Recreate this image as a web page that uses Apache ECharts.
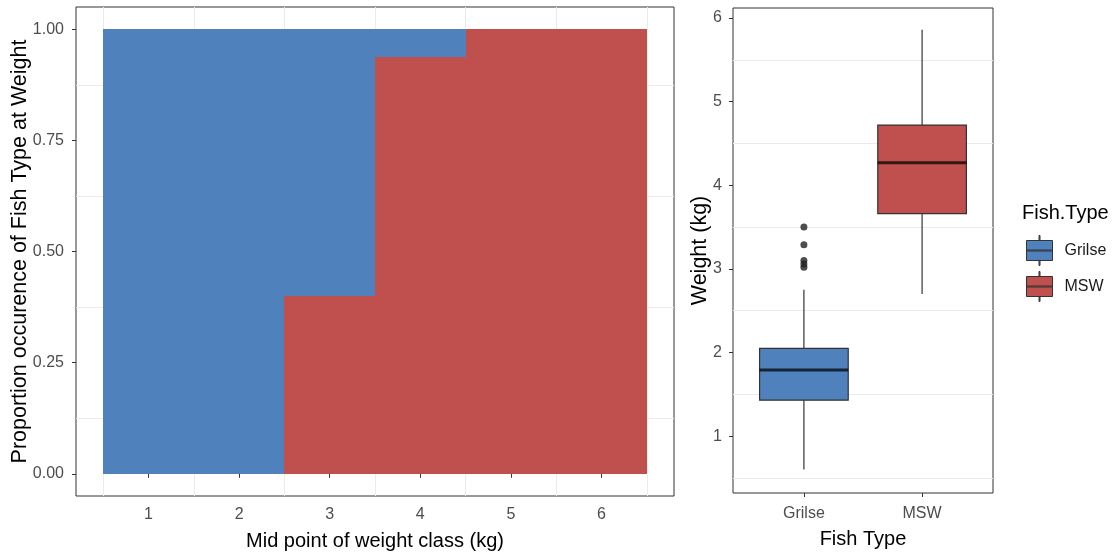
<!DOCTYPE html>
<html>
<head>
<meta charset="utf-8">
<script src="https://cdn.jsdelivr.net/npm/echarts@6/dist/echarts.min.js"></script>
<style>
  html, body { margin: 0; padding: 0; background: #ffffff; }
  #chart { width: 1118px; height: 556px; }
</style>
</head>
<body>
<div id="chart"></div>
<script>
// ---- data ----
const weightClasses = [1, 2, 3, 4, 5, 6];
const grilseProp = [1, 1, 0.6, 0.0625, 0, 0];
const mswProp = [0, 0, 0.4, 0.9375, 1, 1];
const propTicks = [0, 0.25, 0.5, 0.75, 1];

const fishTypes = ['Grilse', 'MSW'];
const whiskerLow = [0.60, 2.70];
const quart1 = [1.43, 3.66];
const medians = [1.79, 4.27];
const quart3 = [2.05, 4.72];
const whiskerHigh = [2.75, 5.86];
const grilseOutliers = [3.50, 3.29, 3.10, 3.06, 3.02];
const weightTicks = [1, 2, 3, 4, 5, 6];

// ---- style ----
const FONT = "'Liberation Sans', Arial, sans-serif";
const BLUE = '#4F81BD';
const RED = '#C0504D';
const typeColors = { Grilse: BLUE, MSW: RED };
const GRID = '#ebebeb';
const DARK = '#333333';
const TICKTXT = '#4d4d4d';

function midpoints(ticks) {
  const out = [];
  const step = ticks[1] - ticks[0];
  out.push(ticks[0] - step / 2);
  for (let i = 0; i < ticks.length; i++) out.push(ticks[i] + step / 2);
  return out;
}

// stacked proportions: MSW at bottom, Grilse on top
const mswStack = weightClasses.map((c, i) => [c, 0, mswProp[i]]);
const grilseStack = weightClasses.map((c, i) => [c, mswProp[i], mswProp[i] + grilseProp[i]]);

const boxData = fishTypes.map((t, i) => [i + 1, whiskerLow[i], quart1[i], medians[i], quart3[i], whiskerHigh[i]]);
const outlierData = grilseOutliers.map(v => [fishTypes.indexOf('Grilse') + 1, v]);

const legendIcon = 'path://M12.5,0H13.5V5H12.5Z M0,5H26V25H0Z M0,14.5H26V15.5H0Z M12.5,25H13.5V30H12.5Z';

const chart = echarts.init(document.getElementById('chart'), null, { renderer: 'canvas' });

function hiddenAxis(extra) {
  return Object.assign({
    type: 'value',
    axisLine: { show: false },
    axisLabel: { show: false },
    axisTick: { show: false },
    splitLine: { show: true, lineStyle: { color: GRID, width: 1 } }
  }, extra);
}

const tickStyle = { show: true, inside: false, length: 4, lineStyle: { color: DARK, width: 1 } };

function barRender(color) {
  return function (params, api) {
    const x = api.value(0);
    const lo = api.value(1);
    const hi = api.value(2);
    if (hi - lo <= 0) return null;
    const p0 = api.coord([x - 0.5, lo]);
    const p1 = api.coord([x + 0.5, hi]);
    const x0 = Math.round(p0[0]), x1 = Math.round(p1[0]);
    const y0 = Math.round(p0[1]), y1 = Math.round(p1[1]);
    return { type: 'rect', shape: { x: x0, y: y1, width: x1 - x0, height: y0 - y1 }, style: { fill: color } };
  };
}

const option = {
  backgroundColor: '#ffffff',
  animation: false,
  textStyle: { fontFamily: FONT },
  title: {
    text: 'Fish.Type',
    left: 1022,
    top: 203,
    padding: 0,
    textStyle: { fontFamily: FONT, fontSize: 20, fontWeight: 'normal', color: '#000000' }
  },
  legend: {
    orient: 'vertical',
    left: 1026,
    top: 235,
    padding: 0,
    itemWidth: 26,
    itemHeight: 30,
    itemGap: 5,
    selectedMode: false,
    textStyle: { fontFamily: FONT, fontSize: 16, color: '#1a1a1a', padding: [0, 0, 0, 7] },
    data: fishTypes.map(t => ({
      name: t,
      icon: legendIcon,
      itemStyle: { color: typeColors[t], borderColor: DARK, borderWidth: 1 }
    }))
  },
  grid: [
    { left: 76, top: 7, width: 598, height: 489, show: true, borderColor: DARK, borderWidth: 1,
      backgroundColor: '#fff', outerBoundsMode: 'none', containLabel: false },
    { left: 733, top: 8, width: 260, height: 485, show: true, borderColor: DARK, borderWidth: 1,
      backgroundColor: '#fff', outerBoundsMode: 'none', containLabel: false }
  ],
  xAxis: [
    {
      gridIndex: 0, type: 'value', min: 0.2, max: 6.8,
      axisLine: { show: false },
      axisTick: Object.assign({ customValues: weightClasses }, tickStyle),
      axisLabel: { customValues: weightClasses, fontSize: 16, color: TICKTXT, margin: 11, fontFamily: FONT },
      splitLine: { show: false },
      name: 'Mid point of weight class (kg)',
      nameLocation: 'middle', nameGap: 35, nameMoveOverlap: false,
      nameTextStyle: { fontSize: 20, color: '#000', fontFamily: FONT }
    },
    hiddenAxis({ gridIndex: 0, min: 0.2, max: 6.8, position: 'top',
      axisTick: { show: false, customValues: midpoints(weightClasses) } }),
    {
      gridIndex: 1, type: 'value', min: 0.4, max: 2.6,
      axisLine: { show: false },
      axisTick: Object.assign({ customValues: fishTypes.map((t, i) => i + 1) }, tickStyle),
      axisLabel: { customValues: fishTypes.map((t, i) => i + 1), fontSize: 16, color: TICKTXT, margin: 13, fontFamily: FONT,
        formatter: v => fishTypes[Math.round(v) - 1] },
      splitLine: { show: false },
      name: 'Fish Type',
      nameLocation: 'middle', nameGap: 36, nameMoveOverlap: false,
      nameTextStyle: { fontSize: 20, color: '#000', fontFamily: FONT }
    }
  ],
  yAxis: [
    {
      gridIndex: 0, type: 'value', min: -0.05, max: 1.05,
      axisLine: { show: false },
      axisTick: Object.assign({ customValues: propTicks }, tickStyle),
      axisLabel: { customValues: propTicks, fontSize: 16, color: TICKTXT, margin: 12, fontFamily: FONT,
        formatter: v => v.toFixed(2) },
      splitLine: { show: false },
      name: 'Proportion occurence of Fish Type at Weight',
      nameLocation: 'middle', nameGap: 44.5, nameMoveOverlap: false,
      nameTextStyle: { fontSize: 21.5, color: '#000', fontFamily: FONT }
    },
    hiddenAxis({ gridIndex: 0, min: -0.05, max: 1.05, position: 'right',
      axisTick: { show: false, customValues: midpoints(propTicks).filter(v => v > -0.05 && v < 1.05) } }),
    {
      gridIndex: 1, type: 'value', min: 0.32, max: 6.12,
      axisLine: { show: false },
      axisTick: Object.assign({ customValues: weightTicks }, tickStyle),
      axisLabel: { customValues: weightTicks, fontSize: 16, color: TICKTXT, margin: 11, fontFamily: FONT },
      splitLine: { show: false },
      name: 'Weight (kg)',
      nameLocation: 'middle', nameGap: 22, nameMoveOverlap: false,
      nameTextStyle: { fontSize: 21.5, color: '#000', fontFamily: FONT }
    },
    hiddenAxis({ gridIndex: 1, min: 0.32, max: 6.12, position: 'right',
      axisTick: { show: false, customValues: midpoints(weightTicks).filter(v => v > 0.32 && v < 6.12) } })
  ],
  series: [
    {
      name: 'MSW', type: 'custom', xAxisIndex: 0, yAxisIndex: 0,
      encode: { x: 0, y: [1, 2] },
      renderItem: barRender(RED),
      data: mswStack
    },
    {
      name: 'Grilse', type: 'custom', xAxisIndex: 0, yAxisIndex: 0,
      encode: { x: 0, y: [1, 2] },
      renderItem: barRender(BLUE),
      data: grilseStack
    },
    {
      name: 'box', type: 'custom', xAxisIndex: 2, yAxisIndex: 2,
      encode: { x: 0, y: [1, 2, 3, 4, 5] },
      data: boxData,
      renderItem: function (params, api) {
        const x = api.value(0);
        const lo = api.coord([x, api.value(1)]);
        const q1 = api.coord([x, api.value(2)]);
        const md = api.coord([x, api.value(3)]);
        const q3 = api.coord([x, api.value(4)]);
        const hi = api.coord([x, api.value(5)]);
        const half = api.size([0.75, 0])[0] / 2;
        const cx = lo[0];
        const color = typeColors[fishTypes[params.dataIndex]];
        const lineSt = { stroke: DARK, lineWidth: 1.2 };
        return {
          type: 'group',
          children: [
            { type: 'line', shape: { x1: cx, y1: lo[1], x2: cx, y2: q1[1] }, style: lineSt },
            { type: 'line', shape: { x1: cx, y1: q3[1], x2: cx, y2: hi[1] }, style: lineSt },
            { type: 'rect', shape: { x: cx - half, y: q3[1], width: 2 * half, height: q1[1] - q3[1] },
              style: { fill: color, stroke: DARK, lineWidth: 1.2 } },
            { type: 'line', shape: { x1: cx - half, y1: md[1], x2: cx + half, y2: md[1] },
              style: { stroke: 'rgba(0,0,0,0.72)', lineWidth: 3 } }
          ]
        };
      }
    },
    {
      name: 'outliers', type: 'scatter', xAxisIndex: 2, yAxisIndex: 2,
      symbol: 'circle', symbolSize: 7,
      itemStyle: { color: '#222222' },
      data: outlierData
    }
  ]
};

chart.setOption(option);
</script>
</body>
</html>
